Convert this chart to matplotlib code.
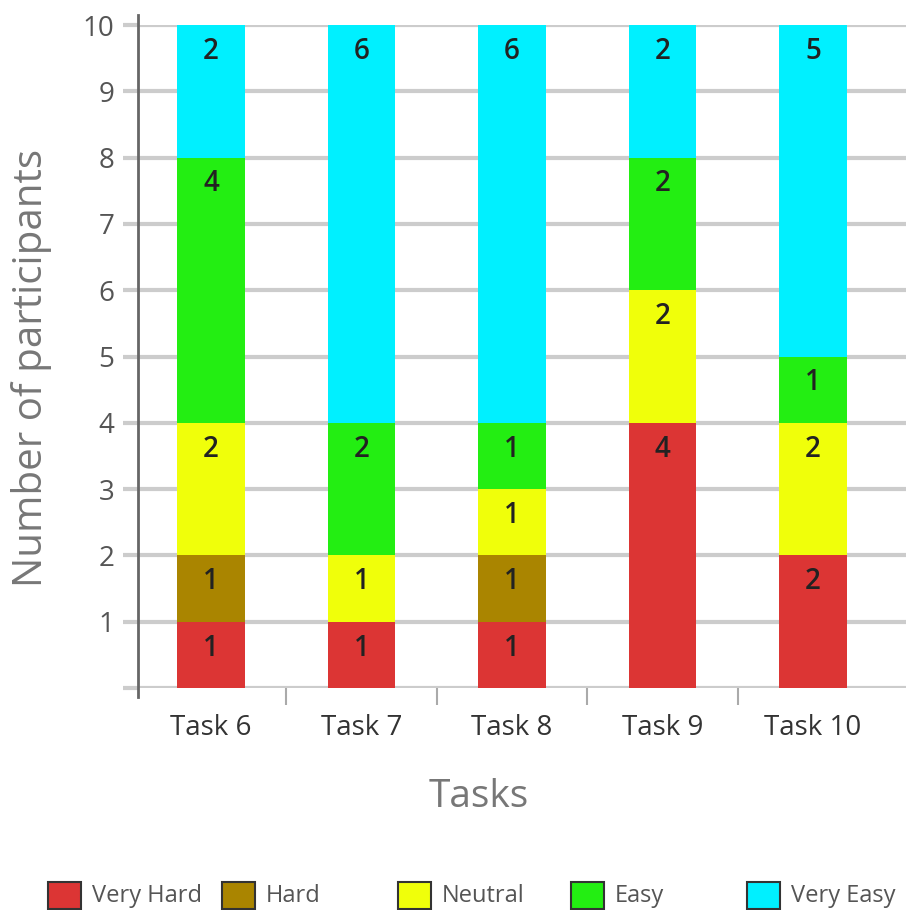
import numpy as np
import matplotlib
matplotlib.use("Agg")
import matplotlib.pyplot as plt
from matplotlib.patches import Rectangle

plt.rcParams['font.family'] = ['Open Sans', 'DejaVu Sans']

# du lieu
tasks = ['Task 6', 'Task 7', 'Task 8', 'Task 9', 'Task 10']
levels = ['Very Hard', 'Hard', 'Neutral', 'Easy', 'Very Easy']
very_hard = [1, 1, 1, 4, 2]
hard = [1, 0, 1, 0, 0]
neutral = [2, 1, 1, 2, 2]
easy = [4, 2, 1, 2, 1]
very_easy = [2, 6, 6, 2, 5]
colors = ['#DC3534', '#AA8500', '#F0FF0A', '#23EE12', '#00F0FF']

series = [very_hard, hard, neutral, easy, very_easy]

fig = plt.figure(figsize=(9.07, 9.10), dpi=100)
ax = fig.add_axes([138 / 907, 1 - 688 / 910, 768 / 907, 663 / 910])

x = np.arange(len(tasks))
bottom = np.zeros(len(tasks))
for vals, c in zip(series, colors):
    vals = np.array(vals)
    ax.bar(x, vals, width=0.45, bottom=bottom, color=c, zorder=3)
    for xi, v, b in zip(x, vals, bottom):
        if v > 0:
            ax.annotate(str(v), (xi, b + v), xytext=(0, -19), textcoords='offset points',
                        ha='center', va='center', fontsize=20, fontweight='semibold',
                        color='#222222', zorder=4)
    bottom += vals

ax.set_xlim(-0.485, 4.618)
ax.set_ylim(0, 10)

# luoi va truc
ax.set_yticks(range(0, 11))
ax.set_yticklabels([''] + [str(i) for i in range(1, 11)])
ax.yaxis.grid(True, color='#cccccc', linewidth=3, zorder=1)
ax.tick_params(axis='y', length=11, width=3, color='#cccccc', pad=6,
               labelsize=20, labelcolor='#555555')
for s in ax.spines.values():
    s.set_visible(False)
ax.plot([0, 0], [-0.013, 1.015], transform=ax.transAxes, color='#666666',
        linewidth=2, clip_on=False, zorder=5)

ax.set_xticks(x)
ax.set_xticklabels(tasks)
ax.set_xticks(x[:-1] + 0.5, minor=True)
ax.tick_params(axis='x', which='major', length=0, pad=19, labelsize=20, labelcolor='#333333')
ax.tick_params(axis='x', which='minor', length=12, width=1.5, color='#aaaaaa')

fig.text(32 / 907, 1 - 368 / 910, 'Number of participants', rotation=90,
         ha='center', va='center', fontsize=29, color='#777777')
fig.text(479 / 907, 1 - 797 / 910, 'Tasks', ha='center', va='center',
         fontsize=28, color='#777777')

# chu thich
leg_x = [48, 222, 398, 571, 747]
for lx, lab, c in zip(leg_x, levels, colors):
    fig.patches.append(Rectangle((lx / 907, 1 - 909 / 910), 33 / 907, 27 / 910,
                                 transform=fig.transFigure, facecolor=c,
                                 edgecolor='#333333', linewidth=1.5))
    fig.text((lx + 44) / 907, 1 - 896 / 910, lab, ha='left', va='center',
             fontsize=17, color='#555555')

fig.savefig('out.png', dpi=100)
